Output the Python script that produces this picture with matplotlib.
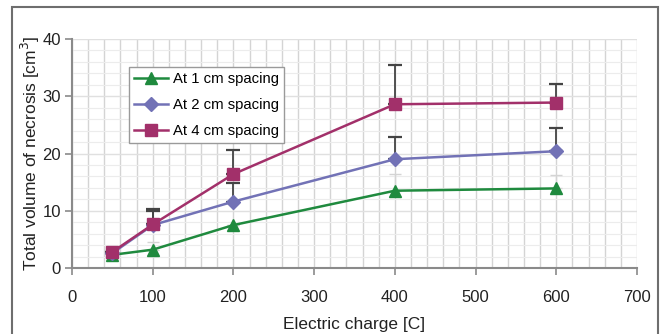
import matplotlib
matplotlib.use("Agg")
import matplotlib.pyplot as plt
from matplotlib.patches import Rectangle
from matplotlib.ticker import MultipleLocator

plt.rcParams['font.family'] = ['Liberation Sans', 'DejaVu Sans']

charge = [50, 100, 200, 400, 600]
spacing1 = [2.3, 3.2, 7.5, 13.5, 13.9]
spacing1_err = [0.0, 1.3, 0.0, 2.9, 2.3]
spacing2 = [2.6, 7.5, 11.6, 19.0, 20.4]
spacing2_err = [0.0, 2.5, 3.2, 3.9, 4.0]
spacing4 = [2.8, 7.6, 16.4, 28.6, 28.9]
spacing4_err = [0.0, 2.7, 4.2, 6.9, 3.3]
labels = ["At 1 cm spacing", "At 2 cm spacing", "At 4 cm spacing"]

W, H = 662, 334
fig = plt.figure(figsize=(W/100, H/100), dpi=100)
fig.patches.append(Rectangle((12/W, -0.05), (658-12)/W, 1.05 - 7/H + 0.0,
                             transform=fig.transFigure, fill=False,
                             edgecolor='#6e6e6e', linewidth=1.5))
ax = fig.add_axes([72/W, 1-268/H, (637-72)/W, (268-39)/H])

green = '#1f8a3e'
blue = '#7272b6'
mag = '#a2306a'

def upper(err):
    return [[0]*len(err), err]

ax.errorbar(charge, spacing1, yerr=upper(spacing1_err), fmt='none',
            ecolor='#d4d4d4', elinewidth=1, capsize=4, capthick=1, zorder=2)
ax.errorbar(charge, spacing2, yerr=upper(spacing2_err), fmt='none',
            ecolor='#444444', elinewidth=1.3, capsize=5, capthick=1.6, zorder=2)
ax.errorbar(charge, spacing4, yerr=upper(spacing4_err), fmt='none',
            ecolor='#444444', elinewidth=1.3, capsize=5, capthick=1.6, zorder=2)

ax.plot(charge, spacing1, color=green, marker='^', markersize=9, lw=1.8, label=labels[0], zorder=3)
ax.plot(charge, spacing2, color=blue, marker='D', markersize=7, lw=1.8, label=labels[1], zorder=4)
ax.plot(charge, spacing4, color=mag, marker='s', markersize=9, lw=1.8, label=labels[2], zorder=5)

ax.set_xlim(0, 700)
ax.set_ylim(0, 40)
ax.xaxis.set_major_locator(MultipleLocator(100))
ax.xaxis.set_minor_locator(MultipleLocator(20))
ax.yaxis.set_major_locator(MultipleLocator(10))
ax.yaxis.set_minor_locator(MultipleLocator(2))
ax.grid(which='both', axis='x', color='#d4d4d4', lw=1.0)
ax.grid(which='major', axis='y', color='#e0e0e0', lw=1.0)
ax.grid(which='minor', axis='y', color='#ececec', lw=0.8)
ax.set_axisbelow(True)

for s in ['top', 'right']:
    ax.spines[s].set_visible(False)
for s in ['left', 'bottom']:
    ax.spines[s].set_color('#8a8a8a')
    ax.spines[s].set_linewidth(1.5)
ax.tick_params(which='major', direction='out', length=5, width=1.2, color='#8a8a8a',
               labelsize=12, labelcolor='#222222')
ax.tick_params(which='minor', length=0)
ax.tick_params(axis='y', pad=3)
ax.tick_params(axis='x', pad=11)

ax.set_xlabel("Electric charge [C]", fontsize=12.5, color='#222222')
ax.set_ylabel("Total volume of necrosis [cm$^3$]", fontsize=12.5, color='#222222')
ax.xaxis.set_label_coords(0.5, -(325-268)/229, transform=ax.transAxes)
ax.xaxis.label.set_va('center')
ax.yaxis.set_label_coords(-(72-30)/565, 0.5, transform=ax.transAxes)
ax.yaxis.label.set_va('center')

leg = ax.legend(loc='upper left', bbox_to_anchor=(0.101, 0.879), fontsize=10.7,
                frameon=True, fancybox=False, edgecolor='#9a9a9a', framealpha=1,
                handlelength=2.3, borderpad=0.35, labelspacing=0.82, handletextpad=0.3,
                borderaxespad=0)
leg.get_frame().set_linewidth(1.0)

fig.savefig("out.png", dpi=100)
